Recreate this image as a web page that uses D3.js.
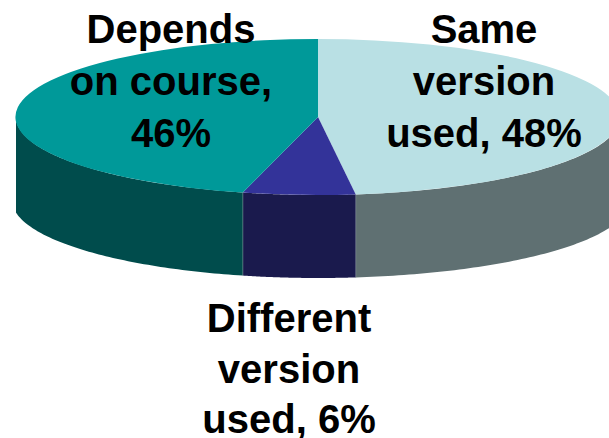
<!DOCTYPE html>
<html><head><meta charset="utf-8">
<script src="https://cdn.jsdelivr.net/npm/d3@7"></script>
<style>html,body{margin:0;padding:0;background:#fff;overflow:hidden}svg{display:block}</style>
</head><body><script>
const categories = ["Same version used", "Different version used", "Depends on course"];
const values = [48, 6, 46];
const topColors = ["#b9e0e4", "#333399", "#009999"];
const sideColors = ["#5f7072", "#1a1a4d", "#004c4c"];
const labelLines = [
  ["Same", "version", "used, 48%"],
  ["Different", "version", "used, 6%"],
  ["Depends", "on course,", "46%"]
];
const labelX = [484, 289, 171];
const labelY = [43, 332, 43];
const labelStep = [52, 50.5, 52];

const W = 609, H = 438, cx = 318, cy = 117, rx = 302, ry = 78, depth = 83;
const rxBottomLeft = 306, rxBottomRight = 312;
const svg = d3.select("body").append("svg").attr("width", W).attr("height", H);
const arcs = d3.pie().sort(null)(values);
const sx = d3.scaleLinear().domain([-1, 1]).range([cx - rx, cx + rx]);
const sy = d3.scaleLinear().domain([-1, 1]).range([cy - ry, cy + ry]);
const line = d3.line();

function bottomY(x) {
  const r = x < cx ? rxBottomLeft : rxBottomRight;
  const u = (x - cx) / r;
  return cy + depth + ry * Math.sqrt(Math.max(0, 1 - u * u));
}

arcs.forEach((a, i) => {
  const s = Math.max(a.startAngle, Math.PI / 2), e = Math.min(a.endAngle, Math.PI * 1.5);
  if (e <= s) return;
  const ts = d3.range(0, 81).map(k => s + (e - s) * k / 80);
  const front = ts.map(t => [sx(Math.sin(t)), sy(-Math.cos(t))]);
  const back = front.map(p => [p[0], bottomY(p[0])]).reverse();
  svg.append("path").attr("d", line(front.concat(back)) + "Z")
    .attr("fill", sideColors[i]);
});

// thin seams between the wall segments
arcs.slice(1).forEach(a => {
  const t = a.startAngle, x = sx(Math.sin(t));
  const c = Math.cos(t);
  if (c >= 0) return;
  svg.append("line").attr("x1", x).attr("x2", x)
    .attr("y1", sy(-c)).attr("y2", bottomY(x))
    .attr("stroke", "#8a9a9c").attr("stroke-opacity", 0.6).attr("stroke-width", 0.8);
});

const arcGen = d3.arc().innerRadius(0).outerRadius(1);
arcs.forEach((a, i) => {
  svg.append("path").attr("d", arcGen(a))
    .attr("transform", `translate(${cx},${cy}) scale(${rx},${ry})`)
    .attr("fill", topColors[i]);
});

labelLines.forEach((lines, i) => {
  lines.forEach((t, j) => {
    svg.append("text").attr("x", labelX[i]).attr("y", labelY[i] + j * labelStep[i])
      .attr("text-anchor", "middle")
      .attr("font-family", "'Liberation Sans', Arial, sans-serif")
      .attr("font-weight", "bold").attr("font-size", 40)
      .attr("fill", "#000").text(t);
  });
});
</script></body></html>
